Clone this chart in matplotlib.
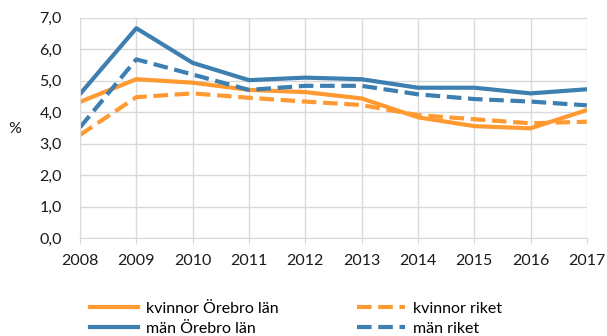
import matplotlib.pyplot as plt
from matplotlib.ticker import FuncFormatter

plt.rcParams['font.family'] = ['Lato', 'DejaVu Sans']

years = [2008, 2009, 2010, 2011, 2012, 2013, 2014, 2015, 2016, 2017]
kvinnor_orebro = [4.33, 5.05, 4.94, 4.71, 4.64, 4.44, 3.84, 3.56, 3.49, 4.07]
man_orebro = [4.58, 6.67, 5.57, 5.02, 5.10, 5.05, 4.78, 4.78, 4.60, 4.73]
kvinnor_riket = [3.28, 4.48, 4.60, 4.46, 4.34, 4.23, 3.91, 3.78, 3.65, 3.70]
man_riket = [3.52, 5.68, 5.20, 4.71, 4.84, 4.84, 4.57, 4.42, 4.34, 4.22]

orange = '#FF9A33'
blue = '#3D7FB1'
grid_col = '#D9D9D9'
fs = 11.5

fig = plt.figure(figsize=(6.07, 3.36), dpi=100)
ax = fig.add_axes([0.1318, 0.291, 0.835, 0.656])

lw = 3.0
l1, = ax.plot(years, kvinnor_orebro, color=orange, lw=lw, label='kvinnor Örebro län')
l2, = ax.plot(years, man_orebro, color=blue, lw=lw, label='män Örebro län')
l3, = ax.plot(years, kvinnor_riket, color=orange, lw=lw, dashes=(3.5, 1.6), label='kvinnor riket')
l4, = ax.plot(years, man_riket, color=blue, lw=lw, dashes=(3.5, 1.6), label='män riket')

ax.set_xlim(2008, 2017)
ax.set_ylim(0, 7)
ax.set_xticks(years)
ax.set_yticks(range(0, 8))
ax.yaxis.set_major_formatter(FuncFormatter(lambda v, p: f'{v:.1f}'.replace('.', ',')))

ax.grid(True, color=grid_col, lw=1)
ax.set_axisbelow(True)
for side in ['top', 'right']:
    ax.spines[side].set_visible(False)
ax.spines['left'].set_color(grid_col)
ax.spines['bottom'].set_color(grid_col)
ax.tick_params(axis='y', length=0, pad=13, labelsize=fs, colors='#1a1a1a')
ax.tick_params(axis='x', length=4, color=grid_col, pad=7, labelsize=fs, colors='#1a1a1a')

fig.text(0.014, 0.615, '%', fontsize=fs, color='#1a1a1a', va='center')

# two legend columns placed separately
leg_kw = dict(loc='upper left', frameon=False, fontsize=fs, handlelength=3.0,
              handletextpad=0.5, labelspacing=0.36, borderpad=0.4)
fig.legend(handles=[l1, l2], bbox_to_anchor=(0.1245, 0.145), **leg_kw)
fig.legend(handles=[l3, l4], bbox_to_anchor=(0.564, 0.145), **leg_kw)

fig.savefig('out.png', dpi=100)
